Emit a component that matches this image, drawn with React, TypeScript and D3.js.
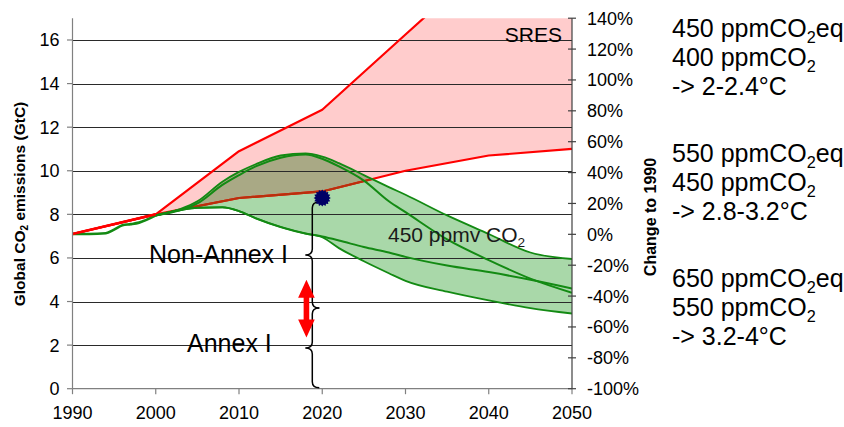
import React from 'react';
import * as d3 from 'd3';

// SRES range (GtC)
const sresYears = [1990, 2000, 2010, 2020, 2030, 2040, 2050];
const sresHigh = [7.1, 8.0, 10.9, 12.8, 16.25, 19.7, 23.1];
const sresLow = [7.1, 8.0, 8.75, 9.05, 10.0, 10.7, 11.0];

// historical emissions
const histYears = [1990, 1992, 1994, 1995, 1996, 1997, 1998, 2000];
const histValues = [7.1, 7.1, 7.13, 7.3, 7.5, 7.55, 7.62, 7.95];

// 450 ppmv CO2 pathways
const bandYears = [2000, 2003, 2005, 2008, 2010, 2012, 2015, 2018, 2020, 2022, 2025, 2028, 2030, 2035, 2040, 2045, 2050];
const greenUpper = [7.95, 8.25, 8.6, 9.5, 9.95, 10.3, 10.7, 10.8, 10.65, 10.35, 9.8, 9.25, 8.9, 7.95, 7.1, 6.25, 5.95];
const greenSteep = [7.95, 8.2, 8.5, 9.35, 9.8, 10.2, 10.6, 10.75, 10.55, 10.2, 9.55, 8.6, 8.1, 6.85, 5.9, 5.05, 4.4];
const greenMid = [7.95, 8.2, 8.3, 8.32, 8.15, 7.82, 7.42, 7.12, 6.98, 6.8, 6.5, 6.25, 6.05, 5.65, 5.35, 5.0, 4.6];
const greenLower = [7.95, 8.2, 8.3, 8.32, 8.15, 7.82, 7.42, 7.12, 6.95, 6.45, 5.85, 5.3, 4.95, 4.45, 4.05, 3.7, 3.45];

const markerYear = 2020;
const markerValue = 8.75;
const annexSplit = 3.7;
const arrowYear = 2018.1;
const arrowTop = 5.0;
const arrowBottom = 2.35;

const xTicks = [1990, 2000, 2010, 2020, 2030, 2040, 2050];
const yTicks = [0, 2, 4, 6, 8, 10, 12, 14, 16];
const pctTicks = [-100, -80, -60, -40, -20, 0, 20, 40, 60, 80, 100, 120, 140];

const legendGroups = [
  ['450 ppmCO2eq', '400 ppmCO2', '-> 2-2.4°C'],
  ['550 ppmCO2eq', '450 ppmCO2', '-> 2.8-3.2°C'],
  ['650 ppmCO2eq', '550 ppmCO2', '-> 3.2-4°C'],
];

const W = 844;
const H = 427;
const font = "Arial, 'Liberation Sans', sans-serif";

const x = d3.scaleLinear().domain([1990, 2050]).range([72.5, 572]);
const y = d3.scaleLinear().domain([0, 17]).range([388.7, 18.2]);
const pct = d3.scaleLinear().domain([-100, 140]).range([388.7, 18.2]);

const RED = '#ff0000';
const GREEN = '#138a13';

// text with a subscripted "2" after CO
function withSub(text: string, size: number) {
  const parts = text.split('CO2');
  const out: React.ReactNode[] = [];
  parts.forEach((p, i) => {
    if (i > 0) {
      out.push(<tspan key={'c' + i}>CO</tspan>);
      out.push(<tspan key={'s' + i} fontSize={size * 0.65} dy={size * 0.22}>2</tspan>);
      out.push(<tspan key={'r' + i} dy={-size * 0.22}>{p}</tspan>);
    } else if (p) {
      out.push(<tspan key={'p' + i}>{p}</tspan>);
    }
  });
  return out;
}

function brace(xc: number, y1: number, y2: number, w: number, r: number) {
  const ym = (y1 + y2) / 2;
  return `M${xc + w},${y1} Q${xc},${y1} ${xc},${y1 + r} L${xc},${ym - r} Q${xc},${ym} ${xc - w},${ym}` +
    ` Q${xc},${ym} ${xc},${ym + r} L${xc},${y2 - r} Q${xc},${y2} ${xc + w},${y2}`;
}

export default function App() {
  const sres = sresYears.map((yr, i) => ({ yr, lo: sresLow[i], hi: sresHigh[i] }));
  const band = bandYears.map((yr, i) => ({ yr, up: greenUpper[i], steep: greenSteep[i], mid: greenMid[i], lo: greenLower[i] }));
  const hist = histYears.map((yr, i) => ({ yr, v: histValues[i] }));

  const pinkArea = d3.area<any>().x(d => x(d.yr)).y0(d => y(d.lo)).y1(d => y(d.hi))(sres)!;
  const greenArea = d3.area<any>().curve(d3.curveMonotoneX).x(d => x(d.yr)).y0(d => y(d.lo)).y1(d => y(d.up))(band)!;
  const redLine = (key: string) => d3.line<any>().x(d => x(d.yr)).y(d => y(d[key]))(sres)!;
  const greenLine = (key: string) => d3.line<any>().curve(d3.curveMonotoneX).x(d => x(d.yr)).y(d => y(d[key]))(band)!;
  const histLine = d3.line<any>().curve(d3.curveMonotoneX).x(d => x(d.yr)).y(d => y(d.v))(hist)!;

  const x0 = x.range()[0];
  const x1 = x.range()[1];
  const yTop = y.range()[1];
  const yBot = y.range()[0];

  const mx = x(markerYear);
  const my = y(markerValue);
  const star = d3.range(32).map(i => {
    const a = (i / 32) * Math.PI * 2;
    const r = i % 2 === 0 ? 8.6 : 6.8;
    return `${mx + r * Math.cos(a)},${my + r * Math.sin(a)}`;
  }).join(' ');

  const ax = x(arrowYear);
  const at = y(arrowTop);
  const ab = y(arrowBottom);
  const hl = 18, hw = 8.3, sw = 2.8;
  const arrowPts = [
    [ax, at], [ax + hw, at + hl], [ax + sw, at + hl], [ax + sw, ab - hl], [ax + hw, ab - hl],
    [ax, ab], [ax - hw, ab - hl], [ax - sw, ab - hl], [ax - sw, at + hl], [ax - hw, at + hl],
  ].map(p => p.join(',')).join(' ');

  const braceX = 312.3;

  return (
    <svg width={W} height={H} viewBox={`0 0 ${W} ${H}`}
      style={{ position: 'absolute', left: 0, top: 0, background: '#fff' }}
      fontFamily={font}>
      <defs>
        <clipPath id="plot"><rect x={x0} y={yTop} width={x1 - x0} height={yBot - yTop} /></clipPath>
        <clipPath id="pinkClip"><path d={pinkArea} /></clipPath>
        <clipPath id="greenClip"><path d={greenArea} /></clipPath>
      </defs>

      <g clipPath="url(#plot)">
        <path d={pinkArea} fill="#ffcccc" />
        <path d={greenArea} fill="#a9d8a9" />
        <g clipPath="url(#pinkClip)">
          <path d={greenArea} fill="#a9a985" />
        </g>
      </g>

      {/* gridlines */}
      {yTicks.filter(t => t > 0).map(t => (
        <line key={t} x1={x0} x2={x1} y1={Math.round(y(t)) + 0.5} y2={Math.round(y(t)) + 0.5} stroke="#2a2a2a" strokeWidth={1} />
      ))}

      <g clipPath="url(#plot)" fill="none" strokeLinejoin="round">
        <path d={redLine('lo')} stroke={RED} strokeWidth={2.2} />
        <path d={redLine('lo')} stroke="#b8300c" strokeWidth={2.2} clipPath="url(#greenClip)" />
        <path d={redLine('hi')} stroke={RED} strokeWidth={2.2} />
        <path d={histLine} stroke={GREEN} strokeWidth={2.6} />
        <path d={greenLine('up')} stroke={GREEN} strokeWidth={1.8} />
        <path d={greenLine('steep')} stroke={GREEN} strokeWidth={2} />
        <path d={greenLine('mid')} stroke={GREEN} strokeWidth={2} />
        <path d={greenLine('lo')} stroke={GREEN} strokeWidth={1.8} />
        <path d={d3.line()([[x(1990), y(7.1)], [x(2000), y(8.0)]])!} stroke={RED} strokeWidth={2.6} />
      </g>

      {/* axes */}
      <line x1={x0} x2={x0} y1={yTop} y2={yBot} stroke="#808080" strokeWidth={1.2} />
      <line x1={x0} x2={x1} y1={yBot} y2={yBot} stroke="#808080" strokeWidth={1.2} />
      <line x1={x1} x2={x1} y1={yTop} y2={yBot} stroke="#404040" strokeWidth={1.2} />
      {yTicks.map(t => (
        <g key={t}>
          <line x1={x0 - 5.5} x2={x0} y1={y(t)} y2={y(t)} stroke="#808080" strokeWidth={1.2} />
          <text x={59.5} y={y(t)} dy="0.36em" textAnchor="end" fontSize={18}>{t}</text>
        </g>
      ))}
      {xTicks.map(t => (
        <g key={t}>
          <line x1={x(t)} x2={x(t)} y1={yBot} y2={yBot + 5.5} stroke="#808080" strokeWidth={1.2} />
          <text x={x(t)} y={419} textAnchor="middle" fontSize={18}>{t}</text>
        </g>
      ))}
      {pctTicks.map(t => (
        <g key={t}>
          <line x1={x1 - 4} x2={x1 + 4} y1={pct(t)} y2={pct(t)} stroke="#404040" strokeWidth={1.2} />
          <text x={587} y={pct(t)} dy="0.36em" fontSize={18}>{t}%</text>
        </g>
      ))}

      <text transform="translate(25,204) rotate(-90)" textAnchor="middle" fontSize={15.5} fontWeight="bold">
        Global C<tspan>O</tspan><tspan fontSize={10} dy={3}>2</tspan><tspan dy={-3}> emissions (GtC)</tspan>
      </text>
      <text transform="translate(656,217) rotate(-90)" textAnchor="middle" fontSize={16} fontWeight="bold">Change to 1990</text>

      {/* annotations */}
      <path d={brace(braceX, my + 4, y(annexSplit), 7, 6)} fill="none" stroke="#000" strokeWidth={1.5} />
      <path d={brace(braceX, y(annexSplit), yBot - 1, 7, 6)} fill="none" stroke="#000" strokeWidth={1.5} />
      <polygon points={star} fill="#000066" />
      <polygon points={arrowPts} fill={RED} />

      <text x={288} y={263} textAnchor="end" fontSize={25}>Non-Annex I</text>
      <text x={187} y={352} fontSize={25}>Annex I</text>
      <text x={562} y={42} textAnchor="end" fontSize={21}>SRES</text>
      <text x={388} y={242} fontSize={21} fill="#1a1a1a">{withSub('450 ppmv CO2', 21)}</text>

      {legendGroups.map((g, gi) => g.map((line, li) => (
        <text key={gi + '-' + li} x={672} y={37 + gi * 125 + li * 29} fontSize={25}>{withSub(line, 25)}</text>
      )))}
    </svg>
  );
}
